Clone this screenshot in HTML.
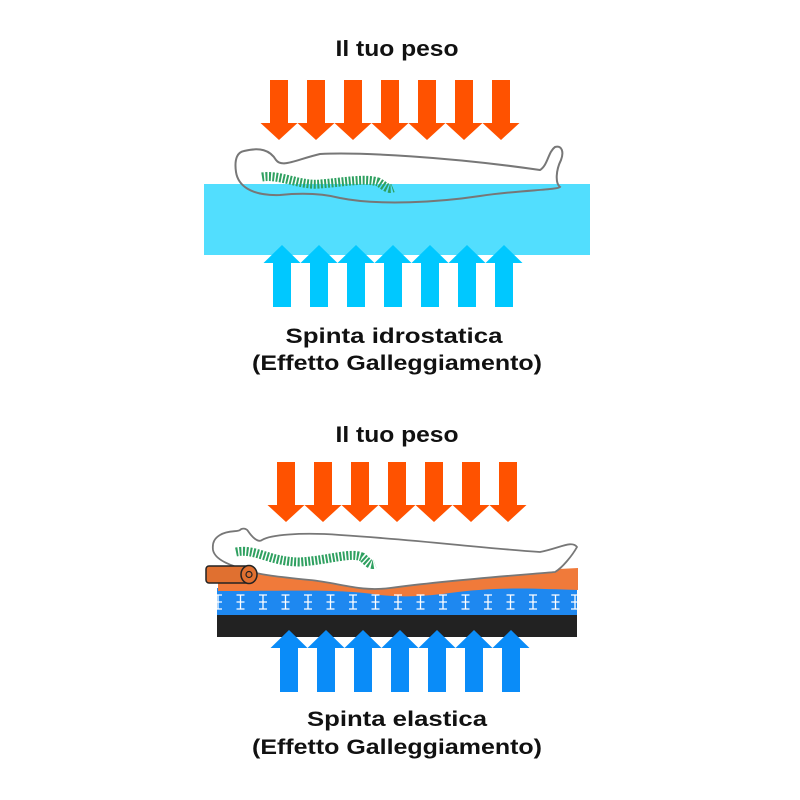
<!DOCTYPE html>
<html><head><meta charset="utf-8"><style>html,body{margin:0;padding:0;background:#fff}svg{display:block}</style></head>
<body>
<svg width="800" height="800" viewBox="0 0 800 800" xmlns="http://www.w3.org/2000/svg">
<defs>
<symbol id="down" overflow="visible"><path d="M-9,0 H9 V43 H18.5 L0,60 L-18.5,43 H-9 Z"/></symbol>
<symbol id="up" overflow="visible"><path d="M0,0 L18.5,18 H9 V62 H-9 V18 H-18.5 Z"/></symbol>
</defs>
<g font-family="Liberation Sans, sans-serif" font-weight="bold" fill="#111" text-anchor="middle">
<text x="397" y="56" font-size="22" textLength="123" lengthAdjust="spacingAndGlyphs">Il tuo peso</text>
<text x="394" y="343" font-size="21" textLength="217" lengthAdjust="spacingAndGlyphs">Spinta idrostatica</text>
<text x="397" y="370" font-size="21" textLength="290" lengthAdjust="spacingAndGlyphs">(Effetto Galleggiamento)</text>
<text x="397" y="442" font-size="22" textLength="123" lengthAdjust="spacingAndGlyphs">Il tuo peso</text>
<text x="397" y="726" font-size="21" textLength="180" lengthAdjust="spacingAndGlyphs">Spinta elastica</text>
<text x="397" y="754" font-size="21" textLength="290" lengthAdjust="spacingAndGlyphs">(Effetto Galleggiamento)</text>
</g>
<!-- top section -->
<rect x="204" y="184" width="386" height="71" fill="#52DEFE"/>
<g fill="#FF5200">
<use href="#down" x="279" y="80"/><use href="#down" x="316" y="80"/><use href="#down" x="353" y="80"/><use href="#down" x="390" y="80"/><use href="#down" x="427" y="80"/><use href="#down" x="464" y="80"/><use href="#down" x="501" y="80"/>
</g>
<g fill="#00C8FF">
<use href="#up" x="282" y="245"/><use href="#up" x="319" y="245"/><use href="#up" x="356" y="245"/><use href="#up" x="393" y="245"/><use href="#up" x="430" y="245"/><use href="#up" x="467" y="245"/><use href="#up" x="504" y="245"/>
</g>
<path d="M244,151 C260,147 270,150 276,160 C282,168 295,160 320,154 C360,152 450,157 540,170 C548,165 548,152 555,147 C562,145 564,152 561,160 C556,170 555,183 560,187 C558,190 520,190 480,196 C440,202 380,206 340,198 C320,193 300,193 280,195 C250,196 238,185 236,172 C234,158 238,152 244,151 Z" fill="none" stroke="#777" stroke-width="2"/>
<path d="M262,177 C280,174 300,186 320,184 C345,182 365,178 378,182 C385,186 388,190 393,188" fill="none" stroke="#2FA060" stroke-width="9" stroke-dasharray="2 1.5"/>
<!-- bottom section -->
<rect x="217" y="615" width="360" height="22" fill="#222"/>
<rect x="217" y="588" width="360" height="27" fill="#1E88F0"/>
<path d="M218,568 C260,576 300,572 340,576 C360,582 370,588 390,585 C430,578 480,572 540,570 L578,568 L578,590 C540,589 500,586 450,593 C420,597 400,597 380,595 C340,589 300,591 218,591 Z" fill="#F07A3A"/>
<g stroke="#fff" stroke-width="1.3">
<g id="mk"><path d="M218,595v14M214,595h8M214,602h8M214,609h8" /></g>
<use href="#mk" x="22.5"/><use href="#mk" x="45"/><use href="#mk" x="67.5"/><use href="#mk" x="90"/><use href="#mk" x="112.5"/><use href="#mk" x="135"/><use href="#mk" x="157.5"/><use href="#mk" x="180"/><use href="#mk" x="202.5"/><use href="#mk" x="225"/><use href="#mk" x="247.5"/><use href="#mk" x="270"/><use href="#mk" x="292.5"/><use href="#mk" x="315"/><use href="#mk" x="337.5"/><use href="#mk" x="357"/>
</g>
<g fill="#FF5200">
<use href="#down" x="286" y="462"/><use href="#down" x="323" y="462"/><use href="#down" x="360" y="462"/><use href="#down" x="397" y="462"/><use href="#down" x="434" y="462"/><use href="#down" x="471" y="462"/><use href="#down" x="508" y="462"/>
</g>
<g fill="#0A8CF8">
<use href="#up" x="289" y="630"/><use href="#up" x="326" y="630"/><use href="#up" x="363" y="630"/><use href="#up" x="400" y="630"/><use href="#up" x="437" y="630"/><use href="#up" x="474" y="630"/><use href="#up" x="511" y="630"/>
</g>
<path d="M220,535 C228,530 238,532 240,530 C242,528 246,528 248,531 C252,537 258,543 262,540 C270,535 300,532 340,535 C420,540 480,548 540,552 C560,548 572,540 577,547 C572,556 562,568 555,572 C520,575 450,580 390,588 C360,592 340,583 310,580 C280,577 260,575 245,570 C230,565 215,560 213,550 C212,542 215,538 220,535 Z" fill="#fff" stroke="#777" stroke-width="1.8"/>
<path d="M236,552 C255,548 270,562 300,562 C330,560 350,552 362,557 C368,562 370,566 375,564" fill="none" stroke="#2FA060" stroke-width="9" stroke-dasharray="2 1.5"/>
<rect x="206" y="566" width="46" height="17" rx="3" fill="#E07030" stroke="#222" stroke-width="1.5"/>
<ellipse cx="249" cy="574.5" rx="8" ry="9" fill="#E07030" stroke="#222" stroke-width="1.5"/>
<circle cx="249" cy="574.5" r="3" fill="none" stroke="#222" stroke-width="1.2"/>
</svg>
</body></html>
